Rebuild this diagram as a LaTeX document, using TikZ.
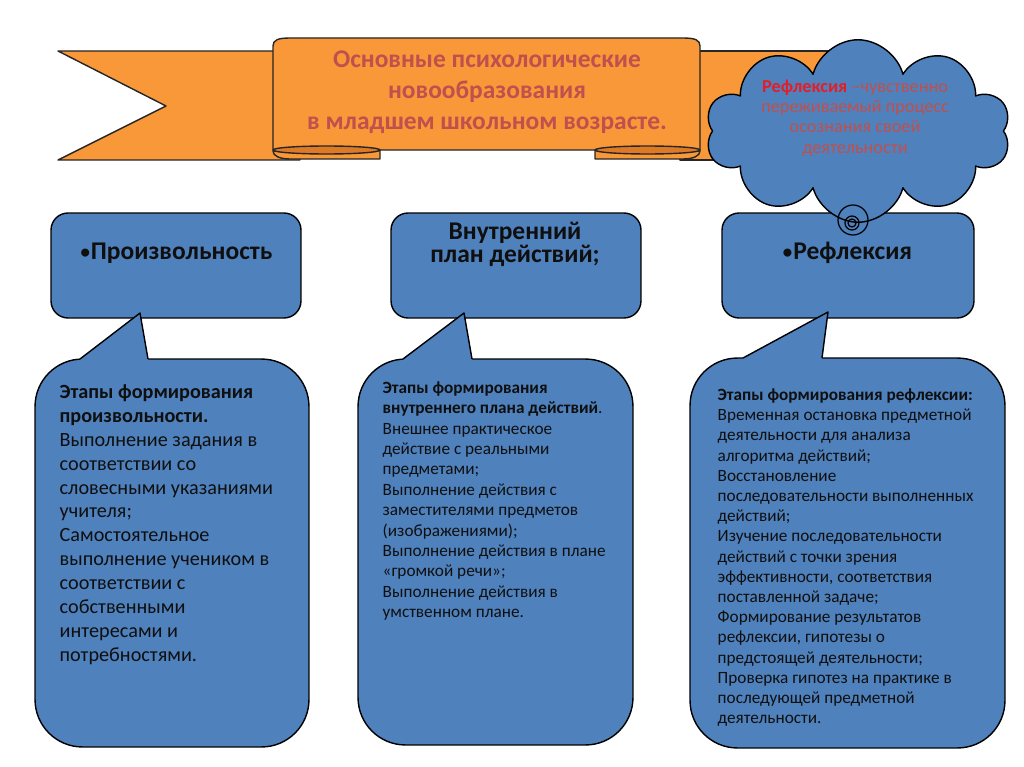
\documentclass[tikz,border=0pt]{standalone}
\usepackage{fontspec}
\setmainfont{Carlito}
\usetikzlibrary{shapes.symbols}
\definecolor{bluef}{RGB}{79,129,189}
\definecolor{orangef}{RGB}{249,152,56}
\definecolor{orangedk}{RGB}{222,122,38}
\definecolor{titlered}{RGB}{192,80,77}
\definecolor{brightred}{RGB}{228,30,40}
\definecolor{txt}{RGB}{15,15,15}
\newcommand\bul{{\fontsize{13}{13}\selectfont\mdseries •}}
\begin{document}
\begin{tikzpicture}[x=0.02cm,y=-0.02cm,line width=0.8pt,line join=round,
  ribbon/.style={draw=black!85,fill=orangef},
  fold/.style={draw=black!85,fill=orangedk},
  topbox/.style={draw=black,fill=bluef,rounded corners=0.34cm,inner sep=0pt,minimum height=2.1cm},
  callbody/.style={draw=black,fill=bluef,rounded corners=0.95cm,inner sep=0pt},
  boxtext/.style={text=txt,font=\bfseries\fontsize{14.5}{13.2}\selectfont,align=center,inner sep=0pt},
  ctext/.style={text=txt,align=left,anchor=north west,inner sep=0pt},
  thought/.style={draw=black,line width=0.7pt}
]
\useasboundingbox (0,0) rectangle (1024,767);
\fill[white] (0,0) rectangle (1024,767);

% ribbon tails
\draw[ribbon] (58,51) -- (300,51) -- (300,160) -- (58,160) -- (166,106) -- cycle;
\draw[ribbon] (880,51) -- (680,51) -- (680,160) -- (880,160) -- cycle;
% folds
\draw[ribbon] (273,151) .. controls (273,156) and (280,159) .. (290,159) -- (380,159) -- (380,147) -- cycle;
\draw[ribbon] (700,151) .. controls (700,156) and (693,159) .. (683,159) -- (595,159) -- (595,147) -- cycle;
% front panel
\draw[ribbon] (273,150) -- (273,46) .. controls (273,40) and (278,38) .. (290,38) -- (683,38) .. controls (695,38) and (700,40) .. (700,46) -- (700,150) -- cycle;
\draw[fold] (326.5,150) ellipse [x radius=53.5, y radius=4];
\draw[fold] (647.5,150) ellipse [x radius=52.5, y radius=4];
\node[text=titlered,font=\bfseries\fontsize{14.5}{17.6}\selectfont,align=center] (title) at (487,92)
  {Основные психологические\\новообразования\\в младшем школьном возрасте.};

% top boxes
\node[topbox,minimum width=5cm] (b1) at (176,265.5) {};
\node[topbox,minimum width=5cm] (b2) at (516,265.5) {};
\node[topbox,minimum width=5.04cm] (b3) at (848,265.5) {};
\node[boxtext] (t1) at (176,253) {\bul Произвольность};
\node[boxtext] (t2) at (515,244) {Внутренний\\план действий;};
\node[boxtext] (t3) at (847,253) {\bul Рефлексия};

% cloud
\node[cloud,cloud puffs=10,aspect=1.7,draw=black,fill=bluef,minimum width=6.1cm,minimum height=3.65cm,inner sep=0pt] (cl) at (858,131) {};
\node[align=center,inner sep=0pt,font=\fontsize{10.4}{11.6}\selectfont] (clt) at (855,118)
  {\textcolor{brightred}{\bfseries Рефлексия} \textcolor{titlered}{–чувственно}\\\textcolor{titlered}{переживаемый процесс}\\\textcolor{titlered}{осознания своей}\\\textcolor{titlered}{деятельности}};
\node[thought,circle,minimum size=0.6cm,inner sep=0pt] (o1) at (853,220) {};
\node[thought,circle,minimum size=0.28cm,inner sep=0pt] (o2) at (852,223) {};
\node[thought,circle,minimum size=0.16cm,inner sep=0pt] (o3) at (852,223) {};

% callouts
\node[callbody,minimum width=5.48cm,minimum height=7.76cm] (c1) at (172,553) {};
\node[callbody,minimum width=5.5cm,minimum height=7.72cm] (c2) at (495.5,552) {};
\node[callbody,minimum width=6.3cm,minimum height=7.8cm] (c3) at (847.5,553) {};
\coordinate (p1) at (140,313);
\coordinate (p2) at (464,313);
\coordinate (p3) at (828,312);
\fill[bluef] (80,361) -- (80,359) -- (p1) -- (148,359) -- (148,361) -- cycle;
\draw (80,359) -- (p1) -- (148,359);
\fill[bluef] (403,361) -- (403,359) -- (p2) -- (472,359) -- (472,361) -- cycle;
\draw (403,359) -- (p2) -- (472,359);
\fill[bluef] (743,360) -- (743,358) -- (p3) -- (822,358) -- (822,360) -- cycle;
\draw (743,358) -- (p3) -- (822,358);

\node[ctext,font=\fontsize{11.5}{13.6}\selectfont] (ct1) at (59,384)
  {\textbf{Этапы формирования}\\\textbf{произвольности.}\\Выполнение задания в\\соответствии со\\словесными указаниями\\учителя;\\Самостоятельное\\выполнение учеником в\\соответствии с\\собственными\\интересами и\\потребностями.};
\node[ctext,font=\fontsize{9.8}{11.6}\selectfont] (ct2) at (382,381)
  {\textbf{Этапы формирования}\\\textbf{внутреннего плана действий}.\\Внешнее практическое\\действие с реальными\\предметами;\\Выполнение действия с\\заместителями предметов\\(изображениями);\\Выполнение действия в плане\\«громкой речи»;\\Выполнение действия в\\умственном плане.};
\node[ctext,font=\fontsize{9.8}{11.5}\selectfont] (ct3) at (717,388)
  {\textbf{Этапы формирования рефлексии:}\\Временная остановка предметной\\деятельности для анализа\\алгоритма действий;\\Восстановление\\последовательности выполненных\\действий;\\Изучение последовательности\\действий с точки зрения\\эффективности, соответствия\\поставленной задаче;\\Формирование результатов\\рефлексии, гипотезы о\\предстоящей деятельности;\\Проверка гипотез на практике в\\последующей предметной\\деятельности.};
\end{tikzpicture}
\end{document}
